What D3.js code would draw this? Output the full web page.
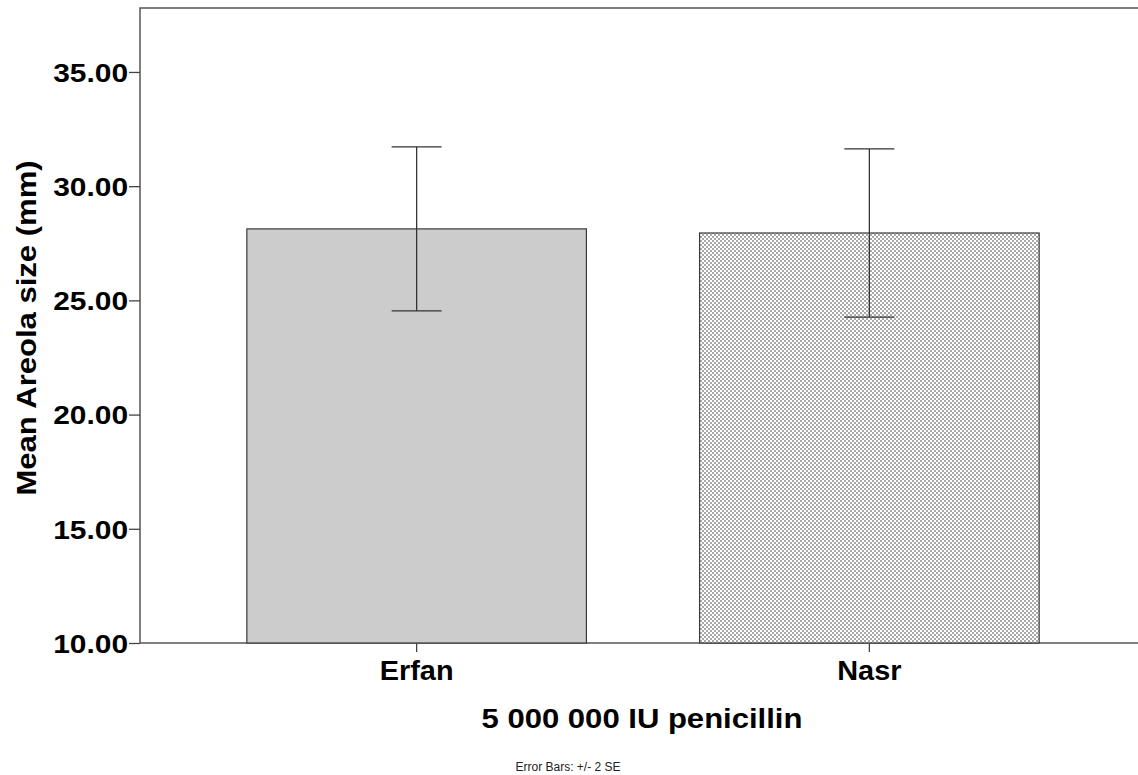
<!DOCTYPE html>
<html>
<head>
<meta charset="utf-8">
<script src="https://cdn.jsdelivr.net/npm/d3@7"></script>
<style>
  body { margin: 0; background: #fff; }
  text { font-family: "Liberation Sans", Arial, sans-serif; }
</style>
</head>
<body>
<svg id="container"></svg>
<script>
const width = 1138;
const height = 775;
const margin = ({top: 8, right: -8, bottom: 132, left: 140});

// values
const groups = ["Erfan", "Nasr"];
const means = [28.13, 27.95];
const errLow = [24.54, 24.27];
const errHigh = [31.72, 31.63];
const yTicks = [10, 15, 20, 25, 30, 35];

const stretch = 1.15;   // the original text is drawn a bit wider than Arial

const svg = d3.select("#container")
    .attr("width", width)
    .attr("height", height);

const defs = svg.append("defs");
const pat = defs.append("pattern")
    .attr("id", "dots")
    .attr("patternUnits", "userSpaceOnUse")
    .attr("width", 4).attr("height", 4);
pat.append("rect").attr("width", 4).attr("height", 4).attr("fill", "#fff");
pat.append("rect").attr("x", 0).attr("y", 0).attr("width", 2).attr("height", 2).attr("fill", "#a8a8a8");
pat.append("rect").attr("x", 2).attr("y", 2).attr("width", 2).attr("height", 2).attr("fill", "#a8a8a8");

var x = d3.scaleBand()
    .domain(groups)
    .range([margin.left, 1146])
    .paddingInner(0.25)
    .paddingOuter(0.236);

var y = d3.scaleLinear()
    .domain([10, 37.8])
    .range([height - margin.bottom, margin.top]);

// frame (top line, left axis, bottom axis)
svg.append("path")
    .attr("d", `M${width + 5},${margin.top}H${margin.left}V${y(10)}H${width + 5}`)
    .attr("fill", "none")
    .attr("stroke", "#555")
    .attr("stroke-width", 1.5);

// bars
svg.append("g")
    .selectAll("rect")
    .data(groups)
    .join("rect")
    .attr("x", d => x(d))
    .attr("width", x.bandwidth())
    .attr("y", (d, i) => y(means[i]))
    .attr("height", (d, i) => y(10) - y(means[i]))
    .attr("fill", (d, i) => i === 0 ? "#cccccc" : "url(#dots)")
    .attr("stroke", "#3a3a3a")
    .attr("stroke-width", 1.2);

// error bars
const eb = svg.append("g")
    .attr("stroke", "#333")
    .attr("stroke-width", 1.3)
    .selectAll("g")
    .data(groups)
    .join("g")
    .attr("transform", d => `translate(${x(d) + x.bandwidth() / 2},0)`);
eb.append("line")
    .attr("y1", (d, i) => y(errLow[i]))
    .attr("y2", (d, i) => y(errHigh[i]));
eb.append("line")
    .attr("x1", -25).attr("x2", 25)
    .attr("y1", (d, i) => y(errHigh[i]))
    .attr("y2", (d, i) => y(errHigh[i]));
eb.append("line")
    .attr("x1", -25).attr("x2", 25)
    .attr("y1", (d, i) => y(errLow[i]))
    .attr("y2", (d, i) => y(errLow[i]));

// y axis
svg.append("g")
    .attr("transform", `translate(${margin.left},0)`)
    .call(d3.axisLeft(y)
        .tickValues(yTicks)
        .tickFormat(d3.format(".2f"))
        .tickSize(11)
        .tickPadding(2))
    .call(g => g.select(".domain").remove())
    .call(g => g.selectAll(".tick line").attr("stroke", "#444").attr("stroke-width", 1.3))
    .call(g => g.selectAll(".tick text")
        .attr("fill", "#000")
        .attr("font-size", 26)
        .attr("font-weight", "bold")
        .attr("font-family", "Liberation Sans, Arial, sans-serif")
        .attr("x", -12 / stretch)
        .attr("transform", `scale(${stretch},1)`)
        .attr("dy", "0.36em"));

// x axis
svg.append("g")
    .attr("transform", `translate(0,${y(10)})`)
    .call(d3.axisBottom(x).tickSize(9).tickPadding(9))
    .call(g => g.select(".domain").remove())
    .call(g => g.selectAll(".tick line").attr("stroke", "#444").attr("stroke-width", 1.3))
    .call(g => g.selectAll(".tick text")
        .attr("fill", "#000")
        .attr("font-size", 27)
        .attr("font-weight", "bold")
        .attr("font-family", "Liberation Sans, Arial, sans-serif")
        .attr("transform", "scale(1.07,1)"));

// axis titles
svg.append("text")
    .attr("transform", `translate(642,728) scale(${stretch},1)`)
    .attr("text-anchor", "middle")
    .attr("font-size", 27)
    .attr("font-weight", "bold")
    .text("5 000 000 IU penicillin");

svg.append("text")
    .attr("transform", `translate(36,328) rotate(-90) scale(${stretch},1)`)
    .attr("text-anchor", "middle")
    .attr("font-size", 27)
    .attr("font-weight", "bold")
    .text("Mean Areola size (mm)");

svg.append("text")
    .attr("x", 568)
    .attr("y", 771)
    .attr("text-anchor", "middle")
    .attr("font-size", 12)
    .attr("fill", "#222")
    .text("Error Bars: +/- 2 SE");
</script>
</body>
</html>
